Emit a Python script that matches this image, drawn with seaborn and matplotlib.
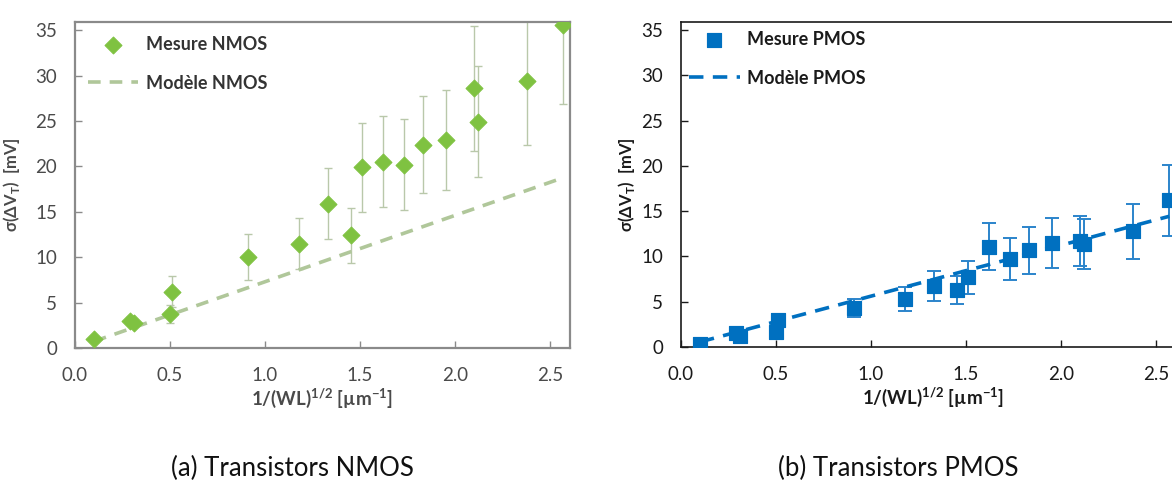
import matplotlib
matplotlib.use("Agg")
import matplotlib.pyplot as plt
import seaborn as sns
import numpy as np
import pandas as pd

# 1/sqrt(WL) for each device geometry [um^-1]
inv_sqrt_wl = [0.10, 0.29, 0.31, 0.50, 0.51, 0.91, 1.18, 1.33, 1.45, 1.51,
               1.62, 1.73, 1.83, 1.95, 2.10, 2.12, 2.38, 2.57]

# NMOS measurements [mV]
nmos_sigma = [1.0, 3.0, 2.7, 3.7, 6.2, 10.0, 11.5, 15.9, 12.4, 19.9,
              20.5, 20.2, 22.4, 22.9, 28.6, 24.9, 29.4, 35.6]
nmos_err = [0.3, 0.4, 0.4, 1.0, 1.7, 2.5, 2.8, 3.9, 3.0, 4.9,
            5.0, 5.0, 5.3, 5.5, 6.9, 6.1, 7.0, 8.7]
nmos_model = [0.73, 2.12, 2.26, 3.65, 3.72, 6.64, 8.61, 9.71, 10.59, 11.02,
              11.83, 12.63, 13.36, 14.24, 15.33, 15.48, 17.37, 18.76]

# PMOS measurements [mV]
pmos_sigma = [0.3, 1.5, 1.2, 1.7, 3.0, 4.3, 5.3, 6.7, 6.3, 7.7,
              11.1, 9.7, 10.7, 11.5, 11.7, 11.4, 12.8, 16.2]
pmos_err = [0.1, 0.3, 0.3, 0.4, 0.6, 1.0, 1.35, 1.65, 1.55, 1.8,
            2.6, 2.3, 2.6, 2.75, 2.8, 2.75, 3.05, 3.9]
pmos_model = [0.56, 1.63, 1.74, 2.81, 2.87, 5.11, 6.63, 7.47, 8.15, 8.49,
              9.10, 9.72, 10.28, 10.96, 11.80, 11.91, 13.38, 14.44]

yticks = [0, 5, 10, 15, 20, 25, 30, 35]
xticks = [0.0, 0.5, 1.0, 1.5, 2.0, 2.5]

sns.set_theme(style="white")
fam = ["Lato", "Open Sans", "DejaVu Sans"]
plt.rcParams["font.family"] = fam
plt.rcParams["mathtext.fontset"] = "custom"
plt.rcParams["mathtext.rm"] = "Lato"
plt.rcParams["mathtext.bf"] = "Lato:bold"

df_n = pd.DataFrame({"x": inv_sqrt_wl, "y": nmos_sigma, "m": nmos_model})
df_p = pd.DataFrame({"x": inv_sqrt_wl, "y": pmos_sigma, "m": pmos_model})

fig = plt.figure(figsize=(11.72, 4.84), dpi=100)
ax1 = fig.add_axes([75 / 1172, 136 / 484, 495 / 1172, 326 / 484])
ax2 = fig.add_axes([681 / 1172, 137 / 484, 503.5 / 1172, 325 / 484])

xlab = r"1/(WL)$^{\mathbf{1/2}}$ [µm$^{\mathbf{-1}}$]"
ylab = r"σ(ΔV$_{\mathbf{T}}$)  [mV]"

# ---- (a) NMOS
green = "#7fc241"
ax1.errorbar(df_n.x, df_n.y, yerr=nmos_err, fmt="none", ecolor="#b9c8aa",
             elinewidth=1.0, capsize=3, capthick=1.0, zorder=2)
sns.lineplot(data=df_n, x="x", y="m", ax=ax1, color="#b0c79a", lw=2.6,
             linestyle=(0, (3.5, 2.5)), label="Modèle NMOS", zorder=3)
sns.scatterplot(data=df_n, x="x", y="y", ax=ax1, marker="D", s=75,
                color=green, edgecolor=green, label="Mesure NMOS", zorder=4)

# ---- (b) PMOS
blue = "#0070c0"
ax2.errorbar(df_p.x, df_p.y, yerr=pmos_err, fmt="none", ecolor="#2b84cb",
             elinewidth=1.4, capsize=5, capthick=1.4, zorder=2)
sns.lineplot(data=df_p, x="x", y="m", ax=ax2, color=blue, lw=2.6,
             linestyle=(0, (4, 2.6)), label="Modèle PMOS", zorder=3)
sns.scatterplot(data=df_p, x="x", y="y", ax=ax2, marker="s", s=110,
                color=blue, edgecolor=blue, label="Mesure PMOS", zorder=4)

for ax, spc, tc, lw, xmax, ylpad in [(ax1, "#8a8a8a", "#4a4a4a", 1.6, 2.605, 9),
                                     (ax2, "#1a1a1a", "#1a1a1a", 1.2, 2.65, 3)]:
    ax.set_xlim(0, xmax)
    ax.set_ylim(0, 35.9)
    ax.set_xticks(xticks)
    ax.set_xticklabels([f"{t:.1f}" for t in xticks])
    ax.set_yticks(yticks)
    for s in ax.spines.values():
        s.set_color(spc)
        s.set_linewidth(lw)
        s.set_visible(True)
    ax.tick_params(direction="in", length=5, width=1, color=spc,
                   labelsize=13.5, labelcolor=tc)
    ax.tick_params(axis="x", pad=14, bottom=True)
    ax.tick_params(axis="y", pad=13, left=True)
    ax.set_xlabel(xlab, fontsize=13.5, fontweight="bold", color=tc, labelpad=1)
    ax.set_ylabel(ylab, fontsize=12, fontweight="bold", color=tc, labelpad=ylpad)
    ax.set_facecolor("white")
    ax.grid(False)
    h, l = ax.get_legend_handles_labels()
    order = [l.index(k) for k in l if k.startswith("Mesure")] + \
            [l.index(k) for k in l if k.startswith("Mod")]
    leg = ax.legend([h[i] for i in order], [l[i] for i in order],
                    loc="upper left", frameon=False, borderaxespad=0, borderpad=0,
                    handlelength=2.8, handletextpad=0.4, labelspacing=1.2,
                    bbox_to_anchor=(0.026, 0.957) if ax is ax1 else (0.016, 0.972),
                    prop={"family": fam, "weight": "bold", "size": 13})
    for t in leg.get_texts():
        t.set_color("#333333" if ax is ax1 else "#1a1a1a")

fig.text(292 / 1172, 1 - 468 / 484, "(a) Transistors NMOS", ha="center",
         va="center", fontsize=18.5, color="#111111")
fig.text(898 / 1172, 1 - 468 / 484, "(b) Transistors PMOS", ha="center",
         va="center", fontsize=18.5, color="#111111")

fig.savefig("out.png", dpi=100, facecolor="white")
